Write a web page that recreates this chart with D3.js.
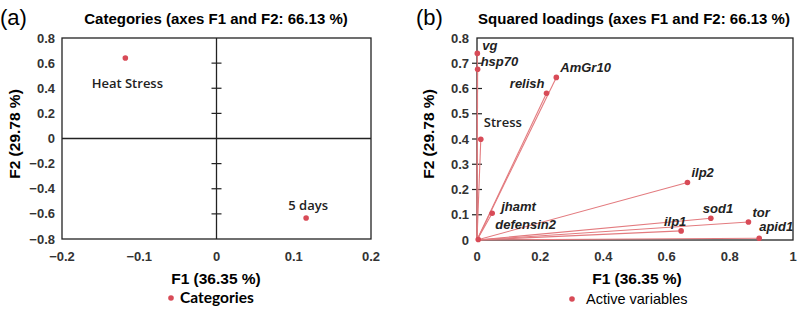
<!DOCTYPE html>
<html><head><meta charset="utf-8">
<script src="https://cdn.jsdelivr.net/npm/d3@7"></script>
<style>body{margin:0;background:#fff}svg{display:block}</style>
</head><body>
<script>
// Panel (a): category scores
const catNames = ["Heat Stress", "5 days"];
const catF1 = [-0.118, 0.116];
const catF2 = [0.641, -0.633];
const aXTicks = [-0.2, -0.1, 0, 0.1, 0.2];
const aYTicks = [-0.8, -0.6, -0.4, -0.2, 0, 0.2, 0.4, 0.6, 0.8];

// Panel (b): squared loadings
const varNames = ["vg", "hsp70", "Stress", "relish", "AmGr10", "ilp2", "jhamt", "defensin2", "ilp1", "sod1", "tor", "apid1"];
const varF1 = [0.001, 0.002, 0.012, 0.220, 0.251, 0.666, 0.048, 0.004, 0.646, 0.740, 0.859, 0.893];
const varF2 = [0.739, 0.676, 0.399, 0.581, 0.644, 0.228, 0.106, 0.002, 0.036, 0.086, 0.071, 0.007];
const bXTicks = [0, 0.2, 0.4, 0.6, 0.8, 1];
const bYTicks = [0, 0.1, 0.2, 0.3, 0.4, 0.5, 0.6, 0.7, 0.8];

const W = 800, H = 316;
const svg = d3.select("body").append("svg").attr("width", W).attr("height", H);
const ptCol = "#d84b57", lineCol = "#e37b7f";
const tickFont = "Liberation Sans, Arial, sans-serif";
const labFont = "'Open Sans', 'Noto Sans', sans-serif";

function fmt(v){ return v === 0 ? "0" : (Math.abs(v - 1) < 1e-9 ? "1" : d3.format(".1f")(v)); }

// ---------- Panel (a) ----------
const ax = d3.scaleLinear().domain([-0.2, 0.2]).range([62, 371]);
const ay = d3.scaleLinear().domain([-0.8, 0.8]).range([239, 38]);
const ga = svg.append("g");
ga.append("text").attr("x", 0).attr("y", 25).attr("font-family", tickFont).attr("font-size", 22).text("(a)");
ga.append("text").attr("x", 216).attr("y", 24).attr("text-anchor", "middle").attr("font-family", tickFont)
  .attr("font-size", 15).attr("font-weight", "bold").text("Categories (axes F1 and F2: 66.13 %)");
ga.append("rect").attr("x", ax(-0.2)).attr("y", ay(0.8)).attr("width", ax(0.2) - ax(-0.2)).attr("height", ay(-0.8) - ay(0.8))
  .attr("fill", "none").attr("stroke", "#222").attr("stroke-width", 1.3);
ga.append("line").attr("x1", ax(-0.2)).attr("x2", ax(0.2)).attr("y1", ay(0)).attr("y2", ay(0)).attr("stroke", "#222").attr("stroke-width", 1.3);
ga.append("line").attr("x1", ax(0)).attr("x2", ax(0)).attr("y1", ay(0.8)).attr("y2", ay(-0.8)).attr("stroke", "#222").attr("stroke-width", 1.3);
ga.selectAll(".ct").data(aYTicks.filter(t => Math.abs(t) > 1e-9 && Math.abs(t) < 0.79)).enter().append("line")
  .attr("x1", ax(0) - 5).attr("x2", ax(0) + 5).attr("y1", d => ay(d)).attr("y2", d => ay(d)).attr("stroke", "#222").attr("stroke-width", 1.2);
ga.selectAll(".yl").data(aYTicks).enter().append("text").attr("x", 55).attr("y", d => ay(d) + 4.5)
  .attr("text-anchor", "end").attr("font-family", tickFont).attr("font-size", 13).attr("font-weight", "bold").attr("fill", "#333").text(fmt);
ga.selectAll(".xl").data(aXTicks).enter().append("text").attr("x", d => ax(d)).attr("y", 261)
  .attr("text-anchor", "middle").attr("font-family", tickFont).attr("font-size", 13).attr("font-weight", "bold").attr("fill", "#333").text(fmt);
ga.append("text").attr("x", 216).attr("y", 284).attr("text-anchor", "middle").attr("font-family", tickFont)
  .attr("font-size", 15.5).attr("font-weight", "bold").text("F1 (36.35 %)");
ga.append("text").attr("transform", "translate(20,134) rotate(-90)").attr("text-anchor", "middle").attr("font-family", tickFont)
  .attr("font-size", 15.5).attr("font-weight", "bold").text("F2 (29.78 %)");
ga.selectAll(".cp").data(catNames).enter().append("circle").attr("cx", (d, i) => ax(catF1[i])).attr("cy", (d, i) => ay(catF2[i]))
  .attr("r", 2.8).attr("fill", ptCol);
const catOff = [[2, 30], [2, -8]];
ga.selectAll(".cl").data(catNames).enter().append("text").attr("x", (d, i) => ax(catF1[i]) + catOff[i][0]).attr("y", (d, i) => ay(catF2[i]) + catOff[i][1])
  .attr("text-anchor", "middle").attr("font-family", labFont).attr("font-size", 13).attr("font-weight", 600).attr("fill", "#222").text(d => d);
ga.append("circle").attr("cx", 171).attr("cy", 298).attr("r", 2.8).attr("fill", ptCol);
ga.append("text").attr("x", 180).attr("y", 303).attr("font-family", "Lato, sans-serif").attr("font-size", 15.5).attr("font-weight", "bold").text("Categories");

// ---------- Panel (b) ----------
const bx = d3.scaleLinear().domain([0, 1]).range([477, 793]);
const by = d3.scaleLinear().domain([0, 0.8]).range([240, 38]);
const gb = svg.append("g");
gb.append("text").attr("x", 416).attr("y", 25).attr("font-family", tickFont).attr("font-size", 22).text("(b)");
gb.append("text").attr("x", 634).attr("y", 24).attr("text-anchor", "middle").attr("font-family", tickFont)
  .attr("font-size", 15).attr("font-weight", "bold").text("Squared loadings (axes F1 and F2: 66.13 %)");
gb.append("rect").attr("x", bx(0)).attr("y", by(0.8)).attr("width", bx(1) - bx(0)).attr("height", by(0) - by(0.8))
  .attr("fill", "none").attr("stroke", "#222").attr("stroke-width", 1.3);
gb.selectAll(".yt").data(bYTicks.filter(t => t > 0 && t < 0.79)).enter().append("line")
  .attr("x1", bx(0) - 5).attr("x2", bx(0) + 5).attr("y1", d => by(d)).attr("y2", d => by(d)).attr("stroke", "#222").attr("stroke-width", 1.2);
gb.selectAll(".yl").data(bYTicks).enter().append("text").attr("x", 469).attr("y", d => by(d) + 4.5)
  .attr("text-anchor", "end").attr("font-family", tickFont).attr("font-size", 13).attr("font-weight", "bold").attr("fill", "#333").text(fmt);
gb.selectAll(".xl").data(bXTicks).enter().append("text").attr("x", d => bx(d)).attr("y", 261)
  .attr("text-anchor", "middle").attr("font-family", tickFont).attr("font-size", 13).attr("font-weight", "bold").attr("fill", "#333").text(fmt);
gb.append("text").attr("x", 637).attr("y", 284).attr("text-anchor", "middle").attr("font-family", tickFont)
  .attr("font-size", 15.5).attr("font-weight", "bold").text("F1 (36.35 %)");
gb.append("text").attr("transform", "translate(434,134) rotate(-90)").attr("text-anchor", "middle").attr("font-family", tickFont)
  .attr("font-size", 15.5).attr("font-weight", "bold").text("F2 (29.78 %)");
gb.selectAll(".vline").data(varNames).enter().append("line")
  .attr("x1", bx(0)).attr("y1", by(0)).attr("x2", (d, i) => bx(varF1[i])).attr("y2", (d, i) => by(varF2[i]))
  .attr("stroke", lineCol).attr("stroke-width", 1.1);
gb.selectAll(".vp").data(varNames).enter().append("circle").attr("cx", (d, i) => bx(varF1[i])).attr("cy", (d, i) => by(varF2[i]))
  .attr("r", 2.8).attr("fill", ptCol);
const lo = {
  vg: [5, -3, "start"], hsp70: [3, -3, "start"], Stress: [3, -12, "start"], relish: [-2, -5, "end"],
  AmGr10: [4, -5, "start"], ilp2: [4, -5, "start"], jhamt: [9, -2, "start"], defensin2: [17, -10, "start"],
  ilp1: [-6, -5, "middle"], sod1: [-8, -5, "start"], tor: [4, -5, "start"], apid1: [0, -7, "start"]
};
gb.selectAll(".vl").data(varNames).enter().append("text")
  .attr("x", (d, i) => bx(varF1[i]) + lo[d][0]).attr("y", (d, i) => by(varF2[i]) + lo[d][1])
  .attr("text-anchor", d => lo[d][2])
  .attr("font-family", d => d === "Stress" ? labFont : tickFont)
  .attr("font-style", d => d === "Stress" ? "normal" : "italic")
  .attr("font-weight", d => d === "Stress" ? 600 : "bold")
  .attr("font-size", 13).attr("fill", "#222").text(d => d);
gb.append("circle").attr("cx", 572).attr("cy", 299).attr("r", 2.8).attr("fill", ptCol);
gb.append("text").attr("x", 586).attr("y", 304).attr("font-family", tickFont).attr("font-size", 14.5).text("Active variables");
</script>
</body></html>
